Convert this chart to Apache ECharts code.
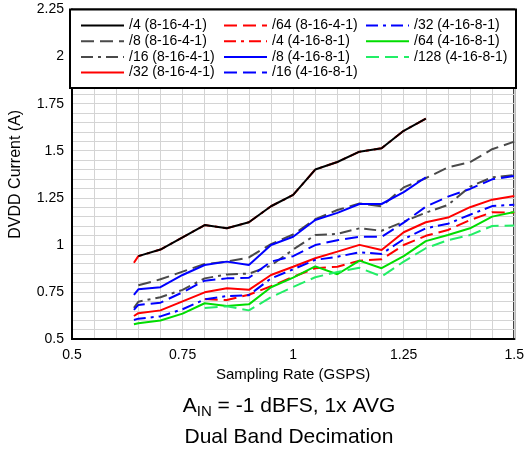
<!DOCTYPE html>
<html>
<head>
<meta charset="utf-8">
<script src="https://cdn.jsdelivr.net/npm/echarts@6/dist/echarts.min.js"></script>
<style>html,body{margin:0;padding:0;background:#fff}#c{width:527px;height:450px}</style>
</head>
<body>
<div id="c"></div>
<script>
// Sampling rate (GSPS)
const xs = [0.64, 0.65, 0.70, 0.75, 0.80, 0.85, 0.90, 0.95, 1.00, 1.05, 1.10, 1.15, 1.20, 1.25, 1.30, 1.35, 1.40, 1.45, 1.50];
// DVDD current (A)
const div4_8164   = [null, 0.94, 0.975, 1.04, 1.105, 1.088, 1.12, 1.205, 1.265, 1.40, 1.44, 1.495, 1.513, 1.606, 1.67, null, null, null, null];
const div8_8164   = [null, 0.785, 0.817, 0.858, 0.898, 0.911, 0.933, 1.004, 1.055, 1.136, 1.185, 1.22, 1.205, 1.305, 1.354, 1.412, 1.439, 1.508, 1.548];
const div16_8164  = [0.665, 0.698, 0.722, 0.761, 0.822, 0.843, 0.847, 0.89, 0.975, 1.052, 1.058, 1.088, 1.075, 1.123, 1.171, 1.212, 1.309, 1.359, 1.371];
const div32_8164  = [0.622, 0.637, 0.652, 0.70, 0.748, 0.769, 0.761, 0.84, 0.884, 0.929, 0.964, 1.0, 0.973, 1.067, 1.12, 1.145, 1.2, 1.24, 1.26];
const div64_8164  = [null, null, null, null, 0.712, 0.707, 0.735, 0.78, 0.83, 0.876, 0.884, 0.916, 0.923, 0.999, 1.048, 1.079, 1.132, 1.173, 1.171];
const div4_41681  = [0.905, 0.94, 0.975, 1.04, 1.105, 1.088, 1.12, 1.205, 1.265, 1.40, 1.44, 1.495, 1.513, 1.606, 1.67, null, null, null, null];
const div8_41681  = [0.734, 0.764, 0.775, 0.84, 0.893, 0.911, 0.893, 0.999, 1.043, 1.132, 1.17, 1.217, 1.217, 1.28, 1.359, null, null, null, null];
const div16_41681 = [0.655, 0.681, 0.693, 0.748, 0.81, 0.822, 0.825, 0.911, 0.94, 0.999, 1.025, 1.043, 1.043, 1.118, 1.203, 1.256, 1.297, 1.348, 1.366];
const div32_41681 = [0.601, 0.608, 0.62, 0.658, 0.71, 0.728, 0.733, 0.822, 0.87, 0.92, 0.937, 0.96, 0.952, 1.03, 1.088, 1.112, 1.16, 1.206, 1.213];
const div64_41681 = [0.578, 0.584, 0.598, 0.635, 0.69, 0.675, 0.684, 0.775, 0.826, 0.886, 0.844, 0.916, 0.876, 0.94, 1.02, 1.052, 1.088, 1.15, 1.174];
const div128_41681= [null, null, null, null, 0.664, 0.674, 0.652, 0.722, 0.776, 0.828, 0.856, 0.878, 0.832, 0.911, 0.982, 1.025, 1.052, 1.1, 1.103];

const names = ['/4 (8-16-4-1)', '/8 (8-16-4-1)', '/16 (8-16-4-1)', '/32 (8-16-4-1)',
               '/64 (8-16-4-1)', '/4 (4-16-8-1)', '/8 (4-16-8-1)', '/16 (4-16-8-1)',
               '/32 (4-16-8-1)', '/64 (4-16-8-1)', '/128 (4-16-8-1)'];
const xTickLabels = ['0.5', '0.75', '1', '1.25', '1.5'];
const yTickLabels = ['0.5', '0.75', '1', '1.25', '1.5', '1.75', '2', '2.25'];

const FONT = 'Liberation Sans, Arial, Helvetica, sans-serif';
const DASH = [13, 6];
const DASHDOT = [12, 5, 3, 5];

function pairs(arr) { return xs.map((x, i) => [x, arr[i]]); }
function mk(name, arr, color, type, z) {
  return {
    name: name, type: 'line', data: pairs(arr), symbol: 'none', connectNulls: false,
    lineStyle: { color: color, width: 2, type: type }, itemStyle: { color: color },
    z: z || 2, animation: false
  };
}

const series = [
  mk(names[5], div4_41681, '#ff0000', DASHDOT),
  mk(names[0], div4_8164, '#000000', 'solid', 4),
  mk(names[1], div8_8164, '#4a4a4a', DASH),
  mk(names[2], div16_8164, '#4a4a4a', DASHDOT),
  mk(names[3], div32_8164, '#ff0000', 'solid'),
  mk(names[4], div64_8164, '#ff0000', DASH),
  mk(names[6], div8_41681, '#0000ff', 'solid'),
  mk(names[7], div16_41681, '#0000ff', DASH),
  mk(names[8], div32_41681, '#0000ff', DASHDOT),
  mk(names[9], div64_41681, '#00dd00', 'solid'),
  mk(names[10], div128_41681, '#22ee66', DASH)
];

const fmt = (labels) => (v) => {
  const s = String(Math.round(v * 100) / 100);
  return labels.indexOf(s) >= 0 ? s : '';
};

const legendBase = {
  orient: 'vertical', top: 18.5, padding: 0, itemWidth: 43, itemHeight: 14, itemGap: 1.7,
  textStyle: { fontSize: 14, color: '#000', fontFamily: FONT }, z: 20,
  itemStyle: { opacity: 0 },
  selectedMode: false
};

const chart = echarts.init(document.getElementById('c'), null, { renderer: 'canvas' });
chart.setOption({
  animation: false,
  backgroundColor: '#fff',
  textStyle: { fontFamily: FONT },
  grid: { left: 70, right: 11, top: 9.5, bottom: 111, show: true, borderColor: '#000', borderWidth: 2, backgroundColor: 'transparent' },
  xAxis: {
    type: 'value', min: 0.5, max: 1.5, interval: 0.05,
    name: 'Sampling Rate (GSPS)', nameLocation: 'middle', nameGap: 28,
    nameTextStyle: { fontSize: 15, color: '#000', fontFamily: FONT },
    axisLine: { lineStyle: { color: '#000', width: 2 } },
    axisTick: { show: false },
    axisLabel: { formatter: fmt(xTickLabels), fontSize: 14, color: '#000', margin: 9, fontFamily: FONT, showMinLabel: true, showMaxLabel: true },
    splitLine: { show: true, lineStyle: { color: '#d4d4d4', width: 1 } }
  },
  yAxis: {
    type: 'value', min: 0.5, max: 2.25, interval: 0.05,
    name: 'DVDD Current (A)', nameLocation: 'middle', nameGap: 48,
    nameTextStyle: { fontSize: 16, color: '#000', fontFamily: FONT },
    axisLine: { lineStyle: { color: '#000', width: 2 } },
    axisTick: { show: false },
    axisLabel: { formatter: fmt(yTickLabels), fontSize: 14, color: '#000', margin: 8, fontFamily: FONT, showMinLabel: true, showMaxLabel: true },
    splitLine: { show: true, lineStyle: { color: '#d4d4d4', width: 1 } }
  },
  legend: [
    Object.assign({}, legendBase, { left: 80, data: names.slice(0, 4) }),
    Object.assign({}, legendBase, { left: 223, data: names.slice(4, 8) }),
    Object.assign({}, legendBase, { left: 365, data: names.slice(8, 11) })
  ],
  graphic: [{
    type: 'rect', z: 10, silent: true,
    shape: { x: 70, y: 9.5, width: 446, height: 78.5 },
    style: { fill: '#ffffff', stroke: '#000000', lineWidth: 2 }
  }],
  title: {
    left: 289, textAlign: 'center', top: 394, itemGap: 10, padding: 0,
    text: '{a|A}{s|IN}{a| = -1 dBFS, 1x AVG}',
    textStyle: {
      fontWeight: 'normal',
      rich: {
        a: { fontSize: 21, fontWeight: 'normal', color: '#000', fontFamily: FONT, lineHeight: 25 },
        s: { fontSize: 15, fontWeight: 'normal', color: '#000', fontFamily: FONT, lineHeight: 12, verticalAlign: 'bottom' }
      }
    },
    subtext: 'Dual Band Decimation',
    subtextStyle: { fontSize: 21, color: '#000', fontFamily: FONT, fontWeight: 'normal' }
  },
  series: series
});
</script>
</body>
</html>
